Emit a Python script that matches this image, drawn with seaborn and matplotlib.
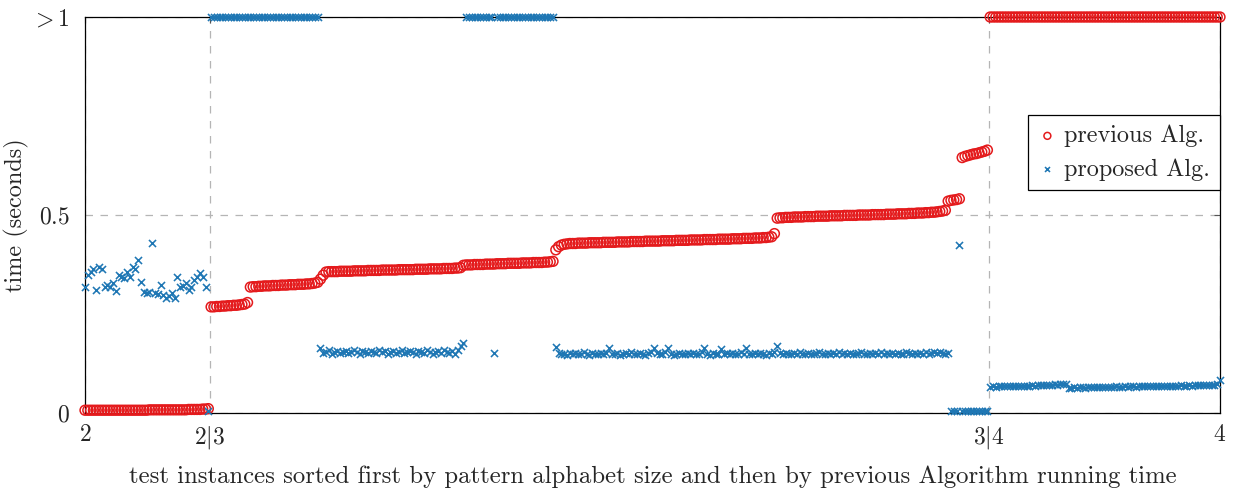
import numpy as np
import pandas as pd
import matplotlib
matplotlib.use("Agg")
import matplotlib.pyplot as plt
import seaborn as sns

# --- datos (tiempo en segundos, >1 se dibuja en 1) ---
# bloque 1: alfabeto de tamaño 2
prev_seg1 = [0.007, 0.007, 0.007, 0.007, 0.007, 0.007, 0.007, 0.007, 0.007, 0.007,
             0.007, 0.007, 0.007, 0.007, 0.007, 0.007, 0.007, 0.007, 0.007, 0.007,
             0.007, 0.007, 0.007, 0.008, 0.008, 0.008, 0.008, 0.008, 0.008, 0.008,
             0.008, 0.008, 0.008, 0.008, 0.008, 0.008, 0.008, 0.009, 0.009, 0.009,
             0.009, 0.009, 0.010, 0.010, 0.011]
prop_seg1 = [0.318, 0.348, 0.356, 0.364, 0.311, 0.369, 0.364, 0.318, 0.323, 0.318,
             0.328, 0.308, 0.348, 0.343, 0.341, 0.356, 0.343, 0.369, 0.364, 0.386,
             0.331, 0.306, 0.303, 0.306, 0.429, 0.303, 0.300, 0.323, 0.298, 0.290,
             0.295, 0.303, 0.290, 0.343, 0.318, 0.321, 0.328, 0.311, 0.318, 0.336,
             0.343, 0.354, 0.343, 0.318, 0.006]

# bloque 2: alfabeto de tamaño 3
prev_seg2 = [0.268, 0.268, 0.269, 0.269, 0.270, 0.270, 0.271, 0.271, 0.272, 0.272,
             0.273, 0.274, 0.275, 0.279,
             0.318, 0.319, 0.319, 0.320, 0.320, 0.321, 0.321, 0.321, 0.322, 0.322,
             0.322, 0.323, 0.323, 0.323, 0.324, 0.324, 0.324, 0.325, 0.325, 0.325,
             0.326, 0.326, 0.327, 0.328, 0.330,
             0.338, 0.348,
             0.356, 0.357, 0.357, 0.357, 0.357, 0.358, 0.358, 0.358, 0.358, 0.358,
             0.359, 0.359, 0.359, 0.359, 0.359, 0.360, 0.360, 0.360, 0.360, 0.360,
             0.361, 0.361, 0.361, 0.361, 0.361, 0.361, 0.362, 0.362, 0.362, 0.362,
             0.362, 0.362, 0.363, 0.363, 0.363, 0.363, 0.363, 0.364, 0.364, 0.364,
             0.364, 0.364, 0.365, 0.365, 0.365, 0.365, 0.366, 0.366, 0.367,
             0.373, 0.374, 0.374, 0.374, 0.375, 0.375, 0.375, 0.375, 0.376, 0.376,
             0.376, 0.376, 0.377, 0.377, 0.377, 0.377, 0.378, 0.378, 0.378, 0.378,
             0.378, 0.379, 0.379, 0.379, 0.379, 0.380, 0.380, 0.380, 0.380, 0.381,
             0.381, 0.382, 0.383,
             0.412, 0.420, 0.424, 0.426, 0.427, 0.428, 0.428, 0.428, 0.429, 0.429,
             0.429, 0.429, 0.430, 0.430, 0.430, 0.430, 0.430, 0.431, 0.431, 0.431,
             0.431, 0.431, 0.432, 0.432, 0.432, 0.432, 0.432, 0.433, 0.433, 0.433,
             0.433, 0.433, 0.434, 0.434, 0.434, 0.434, 0.434, 0.434, 0.435, 0.435,
             0.435, 0.435, 0.435, 0.436, 0.436, 0.436, 0.436, 0.436, 0.437, 0.437,
             0.437, 0.437, 0.437, 0.438, 0.438, 0.438, 0.438, 0.438, 0.439, 0.439,
             0.439, 0.439, 0.439, 0.440, 0.440, 0.440, 0.440, 0.441, 0.441, 0.441,
             0.441, 0.442, 0.442, 0.442, 0.443, 0.443, 0.444, 0.445, 0.453,
             0.492, 0.493, 0.493, 0.494, 0.494, 0.494, 0.495, 0.495, 0.495, 0.495,
             0.496, 0.496, 0.496, 0.496, 0.497, 0.497, 0.497, 0.497, 0.497, 0.498,
             0.498, 0.498, 0.498, 0.498, 0.499, 0.499, 0.499, 0.499, 0.499, 0.500,
             0.500, 0.500, 0.500, 0.500, 0.501, 0.501, 0.501, 0.501, 0.501, 0.502,
             0.502, 0.502, 0.502, 0.503, 0.503, 0.503, 0.503, 0.504, 0.504, 0.504,
             0.505, 0.505, 0.505, 0.506, 0.506, 0.507, 0.507, 0.508, 0.509, 0.510,
             0.512,
             0.535, 0.537, 0.538, 0.539, 0.541,
             0.645, 0.648, 0.650, 0.652, 0.654, 0.655, 0.657, 0.659, 0.661, 0.664]
prop_seg2 = [1.0, 1.0, 1.0, 1.0, 1.0, 1.0, 1.0, 1.0, 1.0, 1.0,
             1.0, 1.0, 1.0, 1.0, 1.0, 1.0, 1.0, 1.0, 1.0, 1.0,
             1.0, 1.0, 1.0, 1.0, 1.0, 1.0, 1.0, 1.0, 1.0, 1.0,
             1.0, 1.0, 1.0, 1.0, 1.0, 1.0, 1.0, 1.0, 1.0,
             0.164, 0.152, 0.155, 0.158, 0.150, 0.153, 0.156, 0.152, 0.154, 0.157,
             0.151, 0.155, 0.158, 0.153, 0.150, 0.156, 0.154, 0.152, 0.157, 0.155,
             0.151, 0.158, 0.153, 0.156, 0.150, 0.154, 0.157, 0.152, 0.155, 0.159,
             0.151, 0.154, 0.156, 0.153, 0.150, 0.157, 0.155, 0.152, 0.158, 0.154,
             0.149, 0.153, 0.156, 0.152, 0.160, 0.155, 0.151, 0.157, 0.150, 0.158,
             0.168, 0.177,
             1.0, 1.0, 1.0, 1.0, 1.0, 1.0, 1.0, 1.0, 1.0, 1.0,
             0.152, 1.0, 1.0, 1.0, 1.0, 1.0, 1.0, 1.0, 1.0, 1.0,
             1.0, 1.0, 1.0, 1.0, 1.0, 1.0, 1.0, 1.0, 1.0, 1.0,
             1.0, 1.0,
             0.166, 0.152, 0.148, 0.150, 0.147, 0.151, 0.149, 0.152, 0.148, 0.150,
             0.153, 0.149, 0.147, 0.151, 0.150, 0.148, 0.152, 0.149, 0.151, 0.163,
             0.150, 0.148, 0.152, 0.147, 0.150, 0.151, 0.149, 0.153, 0.148, 0.150,
             0.152, 0.149, 0.147, 0.151, 0.155, 0.165, 0.152, 0.148, 0.150, 0.153,
             0.164, 0.150, 0.146, 0.149, 0.151, 0.148, 0.150, 0.152, 0.149, 0.151,
             0.148, 0.150, 0.153, 0.163, 0.149, 0.147, 0.151, 0.150, 0.148, 0.162,
             0.150, 0.152, 0.149, 0.151, 0.148, 0.150, 0.153, 0.149, 0.163, 0.150,
             0.148, 0.151, 0.149, 0.152, 0.150, 0.147, 0.151, 0.149, 0.153, 0.168,
             0.151, 0.149, 0.152, 0.148, 0.150, 0.151, 0.149, 0.153, 0.150, 0.148,
             0.152, 0.150, 0.149, 0.151, 0.155, 0.150, 0.148, 0.152, 0.149, 0.151,
             0.150, 0.153, 0.149, 0.151, 0.148, 0.152, 0.150, 0.149, 0.151, 0.154,
             0.150, 0.148, 0.152, 0.149, 0.151, 0.150, 0.153, 0.149, 0.151, 0.150,
             0.152, 0.149, 0.151, 0.148, 0.150, 0.153, 0.151, 0.149, 0.152, 0.150,
             0.151, 0.149, 0.153, 0.150, 0.152, 0.155, 0.151, 0.153, 0.152, 0.150,
             0.151,
             0.004, 0.004, 0.005, 0.425, 0.004, 0.005, 0.004, 0.005, 0.004, 0.005,
             0.004, 0.005, 0.004, 0.006]

# bloque 3: alfabeto de tamaño 4
prev_seg3 = [1.0, 1.0, 1.0, 1.0, 1.0, 1.0, 1.0, 1.0, 1.0, 1.0,
             1.0, 1.0, 1.0, 1.0, 1.0, 1.0, 1.0, 1.0, 1.0, 1.0,
             1.0, 1.0, 1.0, 1.0, 1.0, 1.0, 1.0, 1.0, 1.0, 1.0,
             1.0, 1.0, 1.0, 1.0, 1.0, 1.0, 1.0, 1.0, 1.0, 1.0,
             1.0, 1.0, 1.0, 1.0, 1.0, 1.0, 1.0, 1.0, 1.0, 1.0,
             1.0, 1.0, 1.0, 1.0, 1.0, 1.0, 1.0, 1.0, 1.0, 1.0,
             1.0, 1.0, 1.0, 1.0, 1.0, 1.0, 1.0, 1.0, 1.0, 1.0,
             1.0, 1.0, 1.0, 1.0, 1.0, 1.0, 1.0, 1.0, 1.0, 1.0,
             1.0, 1.0, 1.0]
prop_seg3 = [0.066, 0.067, 0.066, 0.067, 0.067, 0.068, 0.067, 0.068, 0.068, 0.067,
             0.068, 0.069, 0.068, 0.069, 0.069, 0.070, 0.069, 0.070, 0.070, 0.071,
             0.070, 0.071, 0.071, 0.072, 0.071, 0.072, 0.073, 0.072,
             0.064, 0.064, 0.065, 0.064, 0.065, 0.065, 0.064, 0.065, 0.066, 0.065,
             0.065, 0.066, 0.065, 0.066, 0.066, 0.065, 0.066, 0.067, 0.066, 0.066,
             0.067, 0.066, 0.067, 0.067, 0.066, 0.067, 0.068, 0.067, 0.067, 0.068,
             0.067, 0.068, 0.068, 0.069, 0.068, 0.068, 0.069, 0.068, 0.069, 0.069,
             0.070, 0.069, 0.069, 0.070, 0.069, 0.070, 0.070, 0.071, 0.070, 0.070,
             0.071, 0.070, 0.071, 0.072, 0.083]

xtick_labels = ["$2$", "$2|3$", "$3|4$", "$4$"]
ytick_labels = ["$0$", "$0.5$", "$>$1"]

rojo = "#e41a1c"
azul = "#1f77b4"

prev = prev_seg1 + prev_seg2 + prev_seg3
prop = prop_seg1 + prop_seg2 + prop_seg3
df = pd.DataFrame({"instancia": np.arange(len(prev)), "prev": prev, "prop": prop})

sns.set_style("white")
plt.rcParams["font.family"] = ["cmr10", "DejaVu Serif"]
plt.rcParams["mathtext.fontset"] = "cm"
plt.rcParams["axes.formatter.use_mathtext"] = True

fig = plt.figure(figsize=(12.37, 4.88), dpi=100)
ax = fig.add_axes([85 / 1237, 1 - 413 / 488, 1135 / 1237, 396 / 488])

sns.scatterplot(data=df, x="instancia", y="prev", ax=ax, marker="o", s=50,
                facecolor="none", edgecolor=rojo, linewidth=1.1,
                label="previous Alg.", clip_on=False, zorder=3)
sns.scatterplot(data=df, x="instancia", y="prop", ax=ax, marker="x", s=26,
                color=azul, linewidth=1.15, label="proposed Alg.",
                clip_on=False, zorder=4)

n1 = len(prev_seg1)
n2 = len(prev_seg2)
ax.set_xlim(0, len(prev) - 1)
ax.set_ylim(0, 1)
ax.set_xticks([0, n1 - 0.5, n1 + n2 - 0.5, len(prev) - 1])
ax.set_xticklabels(xtick_labels, fontsize=17)
ax.set_yticks([0, 0.5, 1])
ax.set_yticklabels(ytick_labels, fontsize=17)
ax.tick_params(direction="in", length=4, width=0.8, color="#555555",
               top=True, right=True, pad=11)
ax.tick_params(axis="x", pad=8)

ax.grid(True, color="#b5b5b5", linestyle=(0, (6, 6)), linewidth=0.9)
ax.set_axisbelow(True)
for s in ax.spines.values():
    s.set_color("black")
    s.set_linewidth(0.9)

ax.set_xlabel("test instances sorted first by pattern alphabet size and then by previous Algorithm running time",
              fontsize=17.8, labelpad=10)
ax.set_ylabel("time (seconds)", fontsize=17.5)
# etiqueta centrada en x≈20 px
ax.yaxis.set_label_coords(-56 / 1135, 0.5)

leg = ax.legend(loc="upper right", bbox_to_anchor=(1.0, 0.7525), borderaxespad=0,
                fontsize=17.5, frameon=True, fancybox=False, framealpha=1,
                edgecolor="black", handletextpad=0.3, borderpad=0.4,
                labelspacing=0.45, handlelength=0.8, markerscale=0.7)
leg.get_frame().set_linewidth(0.9)

fig.savefig("out.png", dpi=100)
